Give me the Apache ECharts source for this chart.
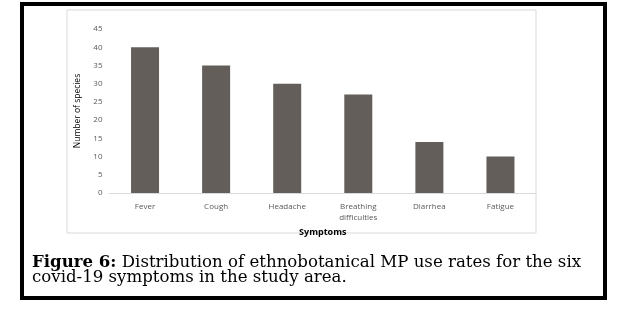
<!DOCTYPE html>
<html>
<head>
<meta charset="utf-8">
<script src="https://cdn.jsdelivr.net/npm/echarts@6/dist/echarts.min.js"></script>
<style>
  html, body { margin: 0; padding: 0; background: #fff; }
  #chart { width: 619px; height: 309px; }
</style>
</head>
<body>
<div id="chart"></div>
<script>
var symptoms = ["Fever", "Cough", "Headache", "Breathing\ndifficulties", "Diarrhea", "Fatigue"];
var speciesCount = [40, 35, 30, 27, 14, 10];
var yTicks = { min: 0, max: 45, interval: 5 };

var myChart = echarts.init(document.getElementById("chart"));
var option = {
  animation: false,
  grid: { left: 109.5, right: 83, top: 29, bottom: 116 },
  xAxis: {
    type: "category",
    data: symptoms,
    name: "Symptoms",
    nameLocation: "middle",
    nameGap: 27,
    nameTextStyle: { fontFamily: "Open Sans", fontSize: 9, fontWeight: "bold", color: "#000" },
    axisTick: { show: false },
    axisLine: { lineStyle: { color: "#d9d9d9", width: 1 } },
    axisLabel: { fontFamily: "Open Sans", fontSize: 8, color: "#595959", margin: 8, lineHeight: 11, interval: 0 }
  },
  yAxis: {
    type: "value",
    min: yTicks.min,
    max: yTicks.max,
    interval: yTicks.interval,
    name: "Number of species",
    nameLocation: "middle",
    nameGap: 27,
    nameTextStyle: { fontFamily: "Open Sans", fontSize: 8.5, color: "#000" },
    axisLine: { show: false },
    axisTick: { show: false },
    splitLine: { show: false },
    axisLabel: { fontFamily: "Open Sans", fontSize: 8, color: "#595959", margin: 7 }
  },
  series: [{
    type: "bar",
    data: speciesCount,
    barWidth: 28,
    itemStyle: { color: "#635e59" }
  }],
  graphic: [
    {
      type: "rect",
      shape: { x: 22, y: 4, width: 583, height: 294 },
      style: { fill: null, stroke: "#000", lineWidth: 4 },
      z: 10
    },
    {
      type: "rect",
      shape: { x: 67, y: 10, width: 469, height: 223 },
      style: { fill: null, stroke: "#d9d9d9", lineWidth: 1 }
    },
    {
      type: "text",
      left: 32,
      top: 254,
      style: {
        text: "{b|Figure 6:} Distribution of ethnobotanical MP use rates for the six\ncovid-19 symptoms in the study area.",
        fontFamily: "DejaVu Serif",
        fontSize: 16.6,
        lineHeight: 15,
        fill: "#000",
        rich: {
          b: { fontFamily: "DejaVu Serif", fontSize: 16.6, fontWeight: "bold", lineHeight: 15 }
        }
      }
    }
  ]
};
myChart.setOption(option);
</script>
</body>
</html>
